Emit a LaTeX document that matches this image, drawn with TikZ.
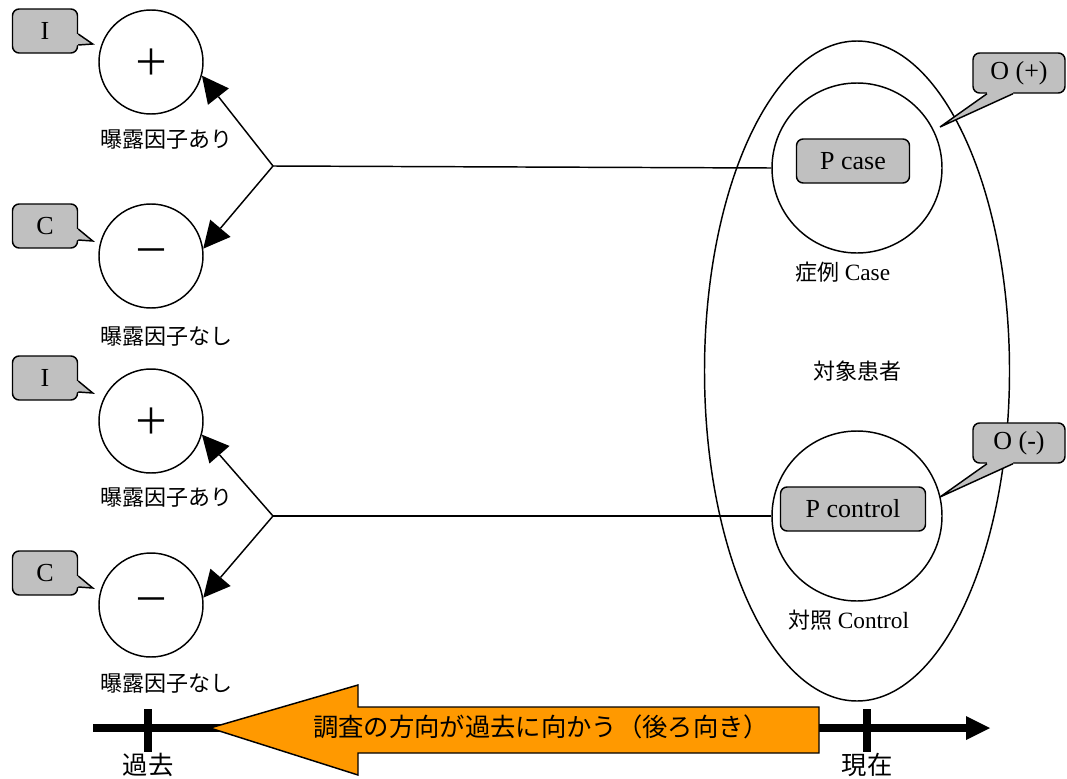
\documentclass[tikz,border=0pt]{standalone}
\usepackage{fontspec}
\setmainfont{Liberation Serif}
\newfontfamily\cjk{Noto Sans CJK JP}
\usetikzlibrary{arrows.meta,shapes.geometric,calc}
\definecolor{boxgray}{HTML}{C0C0C0}
\definecolor{arrorange}{HTML}{FF9900}
\begin{document}
\begin{tikzpicture}[x=0.75pt,y=-0.75pt,
  conn/.style={line width=1.1pt},
  expo/.style={circle,draw,line width=1.1pt,minimum size=78pt,inner sep=0pt,font=\cjk\fontsize{27}{28}\selectfont},
  bigc/.style={circle,draw,line width=1.1pt,minimum size=127.5pt,inner sep=0pt},
  pbox/.style={rectangle,rounded corners=5pt,draw,line width=1.1pt,fill=boxgray,minimum height=33pt,inner sep=0pt,font=\fontsize{19.5}{22}\selectfont},
  tagbox/.style={rectangle,rounded corners=5pt,draw,line width=1.1pt,fill=boxgray,inner sep=0pt,font=\fontsize{19.5}{22}\selectfont},
  lab/.style={font=\cjk\fontsize{16.5}{20}\selectfont,inner sep=0pt},
  biglab/.style={font=\cjk\fontsize{19}{22}\selectfont,inner sep=0pt},
  arr/.style={line width=1.1pt,-{Triangle[length=20pt,width=20pt,line width=0pt]}},
]
\useasboundingbox (0,0) rectangle (1067,778);

% ---------- left exposure circles ----------
\node[expo] (p1) at (151,62) {＋};
\node[expo] (m1) at (151,256) {－};
\node[expo] (p2) at (151,421) {＋};
\node[expo] (m2) at (151,605) {－};
\node[lab] (lp1) at (166,140) {曝露因子あり};
\node[lab] (lm1) at (166,337) {曝露因子なし};
\node[lab] (lp2) at (166,498) {曝露因子あり};
\node[lab] (lm2) at (166,684) {曝露因子なし};

% ---------- tags I / C ----------
\newcommand{\lefttag}[4]{%
  \node[tagbox,minimum width=48.75pt,minimum height=33pt] (#1) at (#2) {#3};
  \coordinate (#1tip) at ($(#1.east)+(14.5,#4)$);
  \fill[boxgray] ($(#1.east)+(-3,3)$) -- ($(#1.east)+(0,3)$) -- (#1tip) -- ($(#1.east)+(0,14)$) -- ($(#1.east)+(-3,14)$) -- cycle;
  \draw[conn,line join=miter] ($(#1.east)+(0,3)$) -- (#1tip) -- ($(#1.east)+(0,14)$);
}
\lefttag{ti1}{45,31}{I}{13}
\lefttag{tc1}{45,226}{C}{15}
\lefttag{ti2}{45,378}{I}{15}
\lefttag{tc2}{45,573}{C}{15}

% ---------- population ----------
\node[ellipse,draw,line width=1.1pt,minimum width=228.75pt,minimum height=495pt,inner sep=0pt,font=\cjk\fontsize{16.5}{20}\selectfont] (pop) at (857,371) {対象患者};
\node[bigc] (casec) at (857,168) {};
\node[bigc] (ctrlc) at (857,516) {};
\node[pbox,minimum width=84.75pt] (pcase) at (853,161) {P case};
\node[pbox,minimum width=108.75pt] (pctrl) at (853,509) {P control};
\node[lab] (lcase) at (843,272) {{\cjk 症例} \fontsize{17.5}{20}\selectfont\rmfamily Case};
\node[lab] (lctrl) at (849,620) {{\cjk 対照} \fontsize{17.5}{20}\selectfont\rmfamily Control};

% ---------- tags O ----------
\newcommand{\otag}[4]{%
  \node[tagbox,minimum width=69pt,minimum height=30pt] (#1) at (#2) {#3};
  \coordinate (#1tip) at (#4);
  \fill[boxgray] ($(#1.south)+(-32,-3)$) -- ($(#1.south)+(-32,0)$) -- (#1tip) -- ($(#1.south)+(-6,0)$) -- ($(#1.south)+(-6,-3)$) -- cycle;
  \draw[conn,line join=miter] ($(#1.south)+(-32,0)$) -- (#1tip) -- ($(#1.south)+(-6,0)$);
}
\otag{op}{1019,73}{O (+)}{940,127}
\otag{om}{1019,443}{O (-)}{940,497}

% ---------- connectors ----------
\coordinate (b1) at (273,166);
\coordinate (b2) at (273,516);
\draw[conn] (casec.west) -- (b1);
\draw[arr] (b1) -- (p1.-15);
\draw[arr] (b1) -- (m1.8);
\draw[conn] (ctrlc.west) -- (b2);
\draw[arr] (b2) -- (p2.-15);
\draw[arr] (b2) -- (m2.8);

% ---------- time line ----------
\coordinate (tl) at (93,728);
\coordinate (tr) at (990,728);
\coordinate (past) at (148,728);
\coordinate (now) at (867,728);
\draw[line width=6pt,-{Triangle[length=18pt,width=18pt,line width=0pt]}] (tl) -- (tr);
\draw[line width=6pt] ($(past)+(0,-19)$) -- ($(past)+(0,24)$);
\draw[line width=6pt] ($(now)+(0,-19)$) -- ($(now)+(0,24)$);
\node[biglab] (lpast) at (148,765) {過去};
\node[biglab] (lnow) at (867,765) {現在};

% ---------- direction arrow ----------
\draw[conn,fill=arrorange,line join=miter] (210,728) -- (358,685) -- (358,707) -- (819,707) -- (819,753) -- (358,753) -- (358,775) -- cycle;
\node[biglab] (dir) at (541,727) {調査の方向が過去に向かう（後ろ向き）};
\end{tikzpicture}
\end{document}
